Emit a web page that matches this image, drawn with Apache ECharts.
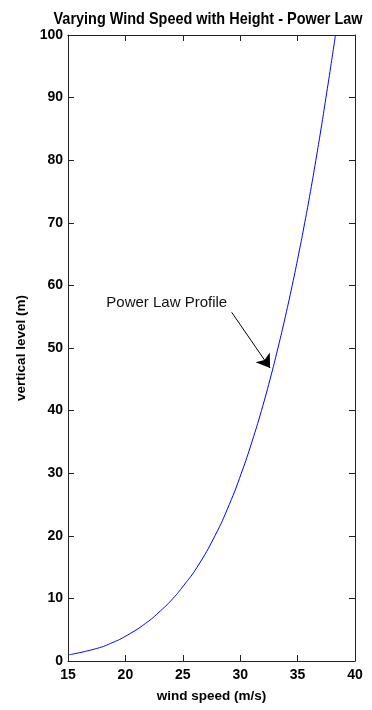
<!DOCTYPE html>
<html>
<head>
<meta charset="utf-8">
<script src="https://cdn.jsdelivr.net/npm/echarts@6/dist/echarts.min.js"></script>
<style>
  html, body { margin: 0; padding: 0; background: #ffffff; }
  #chart { width: 372px; height: 710px; }
</style>
</head>
<body>
<div id="chart"></div>
<script>
// Wind speed (m/s) at each vertical level (m), power-law profile
var heights = [1, 2, 3, 4, 6, 8, 10, 12, 15, 20, 25, 30, 35, 40, 45, 50, 55, 60, 65, 70, 75, 80, 85, 90, 95, 100];
var windSpeeds = [15.1, 17.5, 18.95, 20.05, 21.75, 23.05, 24.15, 25.05, 26.25, 27.8, 29.05, 30.1, 31.02, 31.85, 32.6, 33.29, 33.93, 34.53, 35.09, 35.62, 36.12, 36.59, 37.04, 37.47, 37.89, 38.3];

var xTicks = [15, 20, 25, 30, 35, 40];
var yTicks = [0, 10, 20, 30, 40, 50, 60, 70, 80, 90, 100];

// annotation: label anchor and arrow from tail to curve
var noteText = 'Power Law Profile';
var noteAt = [23.6, 57.2];
var arrowFrom = [29.26, 55.7];
var arrowTo = [32.6, 46.8];

var profile = heights.map(function (h, i) { return [windSpeeds[i], h]; });

var baseFont = 'Liberation Sans, Arial, sans-serif';
var axisColor = '#222222';

function makeX(pos, showLabels) {
  return {
    type: 'value', position: pos,
    min: xTicks[0], max: xTicks[xTicks.length - 1], interval: xTicks[1] - xTicks[0],
    axisLine: { show: true, onZero: false, lineStyle: { color: axisColor, width: 1 } },
    axisTick: { show: true, inside: true, length: 6, lineStyle: { color: axisColor } },
    axisLabel: { show: showLabels, margin: 7, color: '#000', fontFamily: baseFont, fontWeight: 'bold', fontSize: 14 },
    splitLine: { show: false },
    name: showLabels ? 'wind speed (m/s)' : '',
    nameLocation: 'middle', nameGap: 28,
    nameTextStyle: { color: '#000', fontFamily: baseFont, fontWeight: 'bold', fontSize: 13.5 }
  };
}
function makeY(pos, showLabels) {
  return {
    type: 'value', position: pos,
    min: yTicks[0], max: yTicks[yTicks.length - 1], interval: yTicks[1] - yTicks[0],
    axisLine: { show: true, onZero: false, lineStyle: { color: axisColor, width: 1 } },
    axisTick: { show: true, inside: true, length: 6, lineStyle: { color: axisColor } },
    axisLabel: { show: showLabels, margin: 5, color: '#000', fontFamily: baseFont, fontWeight: 'bold', fontSize: 14 },
    splitLine: { show: false },
    name: showLabels ? 'vertical level (m)' : '',
    nameLocation: 'middle', nameGap: 40,
    nameTextStyle: { color: '#000', fontFamily: baseFont, fontWeight: 'bold', fontSize: 13.5 }
  };
}

var chart = echarts.init(document.getElementById('chart'), null, { renderer: 'canvas' });
chart.setOption({
  backgroundColor: '#ffffff',
  animation: false,
  grid: { left: 68, right: 17, top: 35, bottom: 49, containLabel: false },
  xAxis: [makeX('bottom', true), makeX('top', false)],
  yAxis: [makeY('left', true), makeY('right', false)],
  graphic: [{
    type: 'text', x: 208, y: 19, scaleX: 0.85,
    style: {
      text: 'Varying Wind Speed with Height - Power Law',
      align: 'center', verticalAlign: 'middle',
      fill: '#000', font: 'bold 17px "Liberation Sans", Arial, sans-serif'
    }
  }],
  series: [{
    type: 'line',
    xAxisIndex: 0, yAxisIndex: 0,
    data: profile,
    smooth: 0.5,
    showSymbol: false,
    lineStyle: { color: '#0000ff', width: 1 },
    markLine: {
      silent: true,
      symbol: ['none', 'arrow'],
      symbolSize: 13,
      lineStyle: { color: '#000', width: 1, type: 'solid' },
      itemStyle: { color: '#000' },
      label: { show: false },
      data: [[{ coord: arrowFrom }, { coord: arrowTo }]]
    },
    markPoint: {
      silent: true,
      symbol: 'circle', symbolSize: 0,
      label: { show: true, position: 'inside', formatter: noteText, color: '#111', fontFamily: baseFont, fontSize: 15 },
      data: [{ coord: noteAt }]
    }
  }]
});
</script>
</body>
</html>
